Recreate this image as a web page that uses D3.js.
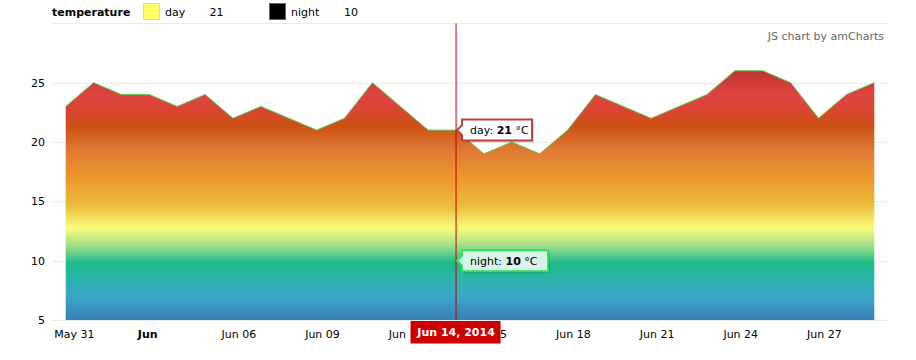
<!DOCTYPE html>
<html>
<head>
<meta charset="utf-8">
<script src="https://cdn.jsdelivr.net/npm/d3@7"></script>
<style>
  html, body { margin: 0; padding: 0; background: #fff; }
  svg { display: block; font-family: "DejaVu Sans", Verdana, sans-serif; }
</style>
</head>
<body>
<svg id="chart" width="916" height="360"></svg>
<script>
// ---- data ----
const startDate = "2014-05-31";
const dayValues = [23, 25, 24, 24, 23, 24, 22, 23, 22, 21, 22, 25, 23, 21, 21,
                   19, 20, 19, 21, 24, 23, 22, 23, 24, 26, 26, 25, 22, 24, 25];
const cursorDate = "2014-06-14";
const cursorNight = 10;
const yTicks = [5, 10, 15, 20, 25];
const xTickLabels = ["May 31", "Jun", "Jun 06", "Jun 09", "Jun 12", "Jun 15", "Jun 18", "Jun 21", "Jun 24", "Jun 27"];
const boldTickLabels = ["Jun"];
const legendTitle = "temperature";
const seriesNames = ["day", "night"];
const unit = "°C";
const creditText = "JS chart by amCharts";

// ---- build ----
(function () {
const parse = d3.timeParse("%Y-%m-%d");
const t0 = parse(startDate);
const data = dayValues.map((v, i) => ({ date: d3.timeDay.offset(t0, i), value: v }));
const cDate = parse(cursorDate);
const cIdx = data.findIndex(d => +d.date === +cDate);
const cursorDay = data[cIdx].value;

const svg = d3.select("#chart");
const pLeft = 52, pRight = 888, pTop = 23.3, pBottom = 320;

const x = d3.scaleTime()
  .domain([data[0].date, data[data.length - 1].date])
  .range([65.7, 874.3]);
const y = d3.scaleLinear().domain([5, 30]).range([pBottom, pTop]);

// grid
const gridVals = yTicks.concat([30]);
svg.append("g").selectAll("line").data(gridVals).join("line")
  .attr("x1", pLeft).attr("x2", pRight)
  .attr("y1", d => Math.round(y(d)) + 0.5).attr("y2", d => Math.round(y(d)) + 0.5)
  .attr("stroke", "#ebebeb").attr("stroke-width", 1);

// y axis
const yAxis = svg.append("g").attr("transform", `translate(45,0)`)
  .call(d3.axisLeft(y).tickValues(yTicks).tickSize(0).tickPadding(0).tickFormat(d3.format("d")));
yAxis.select(".domain").remove();
yAxis.selectAll("text").attr("font-size", 11).attr("fill", "#000")
  .attr("font-family", "DejaVu Sans, Verdana, sans-serif");

// gradient
const defs = svg.append("defs");
const grad = defs.append("linearGradient").attr("id", "tempGrad")
  .attr("gradientUnits", "userSpaceOnUse")
  .attr("x1", 0).attr("x2", 0).attr("y1", y(26)).attr("y2", y(5));
const stops = [
  [0.00, "#c23431"], [0.10, "#de4540"], [0.15, "#db4436"], [0.22, "#cc5013"],
  [0.32, "#df7a34"], [0.44, "#ee9a2e"], [0.54, "#e9bc3a"], [0.63, "#fbfc7a"],
  [0.70, "#a3df88"], [0.77, "#1fbb8b"], [0.85, "#2db1ae"], [0.91, "#3aa5cb"],
  [1.00, "#3a7fb6"]
];
grad.selectAll("stop").data(stops).join("stop")
  .attr("offset", d => d[0]).attr("stop-color", d => d[1]);

// area
const area = d3.area().x(d => x(d.date)).y0(y(5)).y1(d => y(d.value));
svg.append("path").datum(data).attr("d", area).attr("fill", "url(#tempGrad)");
const line = d3.line().x(d => x(d.date)).y(d => y(d.value));
svg.append("path").datum(data).attr("d", line)
  .attr("fill", "none").attr("stroke", "#5fcf55").attr("stroke-width", 1);

// x axis
const xTickDates = xTickLabels.map((_, i) => d3.timeDay.offset(t0, i * 3));
const xAxis = svg.append("g").attr("transform", `translate(0,${pBottom})`)
  .call(d3.axisBottom(x).tickValues(xTickDates).tickSize(0).tickPadding(0)
    .tickFormat((d, i) => xTickLabels[i]));
xAxis.select(".domain").attr("d", `M${pLeft},0.5H${pRight}`).attr("stroke", "#ebebeb");
xAxis.selectAll(".tick text")
  .attr("text-anchor", "start").attr("x", -12).attr("y", 18).attr("dy", null)
  .attr("font-size", 11).attr("fill", "#000")
  .attr("font-family", "DejaVu Sans, Verdana, sans-serif")
  .attr("font-weight", (d, i) => boldTickLabels.includes(xTickLabels[i]) ? "bold" : "normal");

// credit
svg.append("text").attr("x", 884).attr("y", 40).attr("text-anchor", "end")
  .attr("font-size", 11).attr("fill", "#666").text(creditText);

// legend
const lg = svg.append("g").attr("font-size", 11);
lg.append("text").attr("x", 52).attr("y", 16).attr("font-weight", "bold").text(legendTitle);
lg.append("rect").attr("x", 143.5).attr("y", 3.5).attr("width", 16).attr("height", 16)
  .attr("fill", "#ffff66").attr("stroke", "#e6e65c");
lg.append("text").attr("x", 165).attr("y", 16).text(seriesNames[0]);
lg.append("text").attr("x", 209.5).attr("y", 16).text(cursorDay);
lg.append("rect").attr("x", 269.5).attr("y", 3.5).attr("width", 16).attr("height", 16)
  .attr("fill", "#000").attr("stroke", "#666");
lg.append("text").attr("x", 291).attr("y", 16).text(seriesNames[1]);
lg.append("text").attr("x", 344).attr("y", 16).text(cursorNight);

// cursor line
const cx = x(cDate);
svg.append("line").attr("x1", cx).attr("x2", cx).attr("y1", pTop).attr("y2", pBottom)
  .attr("stroke", "#cc0000").attr("stroke-width", 1);

// balloons
function balloon(val, name, cy, w, stroke, fill) {
  const g = svg.append("g");
  const bx = cx + 6, h = 21, by = cy - h / 2;
  const p = `M${bx},${by}H${bx + w}V${by + h}H${bx}V${cy + 5}L${cx + 1},${cy}L${bx},${cy - 5}Z`;
  g.append("path").attr("d", p).attr("transform", "translate(2,2)")
    .attr("fill", "#000").attr("opacity", 0.12);
  g.append("path").attr("d", p).attr("fill", fill).attr("stroke", stroke).attr("stroke-width", 2);
  const t = g.append("text").attr("x", bx + 8).attr("y", cy + 4).attr("font-size", 11).attr("fill", "#000");
  t.append("tspan").text(name + ": ");
  t.append("tspan").attr("font-weight", "bold").text(val);
  t.append("tspan").text(" " + unit);
}
balloon(cursorDay, seriesNames[0], y(cursorDay), 70, "#b8413d", "#ffffff");
balloon(cursorNight, seriesNames[1], y(cursorNight), 86, "#2fe05a", "#d9f3ea");

// category balloon
const labelText = d3.timeFormat("%b %d, %Y")(cDate);
const cg = svg.append("g");
cg.append("rect").attr("x", cx - 45.5).attr("y", 321).attr("width", 90).attr("height", 22.5)
  .attr("fill", "#cc0000");
cg.append("text").attr("x", cx).attr("y", 336).attr("text-anchor", "middle")
  .attr("font-size", 11).attr("font-weight", "bold").attr("fill", "#fff").text(labelText);
})();
</script>
</body>
</html>
